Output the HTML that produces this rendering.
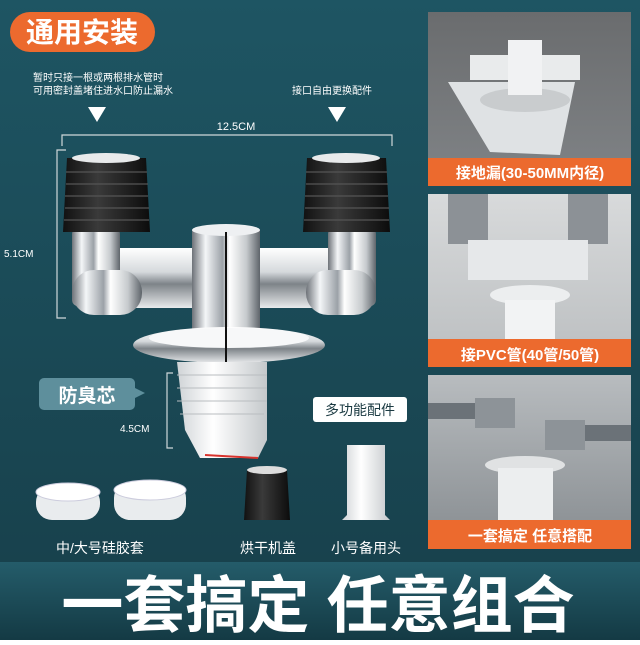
<!DOCTYPE html>
<html><head><meta charset="utf-8"><style>
html,body{margin:0;padding:0}
body{width:640px;height:640px;overflow:hidden;font-family:"Liberation Sans","Noto Sans CJK SC",sans-serif;}
</style></head><body>
<svg width="640" height="640" viewBox="0 0 640 640" xmlns="http://www.w3.org/2000/svg" font-family="'Liberation Sans','Noto Sans CJK SC',sans-serif">
<defs>
<linearGradient id="bg" x1="0" y1="0" x2="0" y2="1"><stop offset="0" stop-color="#1e5563"/><stop offset="1" stop-color="#173f4a"/></linearGradient>
<linearGradient id="band" x1="0" y1="0" x2="0" y2="1"><stop offset="0" stop-color="#245c6a"/><stop offset="1" stop-color="#143a44"/></linearGradient>
<linearGradient id="chr" x1="0" y1="0" x2="1" y2="0"><stop offset="0" stop-color="#6d7278"/><stop offset="0.2" stop-color="#f4f6f8"/><stop offset="0.45" stop-color="#9ba1a7"/><stop offset="0.55" stop-color="#ffffff"/><stop offset="0.8" stop-color="#c6cacd"/><stop offset="1" stop-color="#5e646a"/></linearGradient>
<linearGradient id="chrv" x1="0" y1="0" x2="0" y2="1"><stop offset="0" stop-color="#ffffff"/><stop offset="0.4" stop-color="#d5d9dc"/><stop offset="0.6" stop-color="#7d8388"/><stop offset="1" stop-color="#e8eaec"/></linearGradient>
<linearGradient id="blk" x1="0" y1="0" x2="1" y2="0"><stop offset="0" stop-color="#111"/><stop offset="0.4" stop-color="#3a3a3a"/><stop offset="1" stop-color="#0c0c0c"/></linearGradient>
<linearGradient id="wht" x1="0" y1="0" x2="1" y2="0"><stop offset="0" stop-color="#cfd3d6"/><stop offset="0.4" stop-color="#ffffff"/><stop offset="1" stop-color="#c4c8cb"/></linearGradient>
<linearGradient id="p1" x1="0" y1="0" x2="0" y2="1"><stop offset="0" stop-color="#6a6c6e"/><stop offset="1" stop-color="#7d8083"/></linearGradient>
<linearGradient id="p2" x1="0" y1="0" x2="0" y2="1"><stop offset="0" stop-color="#d8dadb"/><stop offset="1" stop-color="#bfc2c4"/></linearGradient>
<linearGradient id="p3" x1="0" y1="0" x2="0" y2="1"><stop offset="0" stop-color="#b8bcbf"/><stop offset="1" stop-color="#8e9397"/></linearGradient>
</defs>
<rect width="640" height="640" fill="url(#bg)"/>

<!-- title pill -->
<rect x="10" y="12" width="145" height="40" rx="20" fill="#ec6a2e"/>
<text x="82" y="42" font-size="28" font-weight="bold" fill="#fff" text-anchor="middle">通用安装</text>

<text x="33" y="81" font-size="10" fill="#fff">暂时只接一根或两根排水管时</text>
<text x="33" y="94" font-size="10" fill="#fff">可用密封盖堵住进水口防止漏水</text>
<text x="292" y="94" font-size="10" fill="#fff">接口自由更换配件</text>
<polygon points="88,107 106,107 97,122" fill="#fff"/>
<polygon points="328,107 346,107 337,122" fill="#fff"/>
<text x="236" y="130" font-size="11" fill="#fff" text-anchor="middle">12.5CM</text>
<path d="M62,146 V135 H392 V146" stroke="#cfd8da" stroke-width="1.2" fill="none"/>
<path d="M66,150 H57 V318 H66" stroke="#cfd8da" stroke-width="1.2" fill="none"/>
<text x="4" y="257" font-size="10" fill="#fff">5.1CM</text>

<!-- product -->
<rect x="100" y="248" width="250" height="60" fill="url(#chrv)"/>
<rect x="72" y="228" width="48" height="78" rx="6" fill="url(#chr)"/>
<rect x="72" y="270" width="70" height="45" rx="22" fill="url(#chr)"/>
<rect x="328" y="228" width="48" height="78" rx="6" fill="url(#chr)"/>
<rect x="306" y="270" width="70" height="45" rx="22" fill="url(#chr)"/>
<rect x="192" y="230" width="68" height="110" fill="url(#chr)"/>
<ellipse cx="226" cy="230" rx="34" ry="6" fill="#eef0f2"/>
<ellipse cx="229" cy="345" rx="96" ry="18" fill="url(#chrv)"/>
<ellipse cx="229" cy="338" rx="80" ry="10" fill="#f7f8f9"/>
<line x1="226" y1="232" x2="226" y2="362" stroke="#111" stroke-width="2"/>
<g fill="url(#blk)">
<path d="M67,158 H146 L150,232 H63 Z"/>
<path d="M307,158 H386 L390,232 H303 Z"/>
</g>
<g stroke="#555" stroke-width="1.2">
<line x1="66" y1="172" x2="147" y2="172"/><line x1="66" y1="184" x2="148" y2="184"/><line x1="65" y1="196" x2="148" y2="196"/><line x1="65" y1="208" x2="149" y2="208"/><line x1="64" y1="220" x2="149" y2="220"/>
<line x1="306" y1="172" x2="387" y2="172"/><line x1="306" y1="184" x2="388" y2="184"/><line x1="305" y1="196" x2="388" y2="196"/><line x1="305" y1="208" x2="389" y2="208"/><line x1="304" y1="220" x2="389" y2="220"/>
</g>
<ellipse cx="106" cy="158" rx="34" ry="5" fill="#e8eaeb"/>
<ellipse cx="346" cy="158" rx="34" ry="5" fill="#e8eaeb"/>

<!-- anti-odor core -->
<path d="M177,362 H267 V440 L258,458 H200 L185,430 Z" fill="url(#wht)"/>
<g stroke="#b9bdc0" stroke-width="1"><line x1="177" y1="375" x2="267" y2="375"/><line x1="177" y1="388" x2="267" y2="388"/><line x1="177" y1="401" x2="267" y2="401"/><line x1="180" y1="414" x2="264" y2="414"/></g>
<path d="M205,455 L258,458" stroke="#d8332d" stroke-width="2"/>
<path d="M173,373 H167 V448 H173" stroke="#cfd8da" stroke-width="1.2" fill="none"/>
<text x="120" y="432" font-size="10" fill="#fff">4.5CM</text>
<rect x="39" y="378" width="96" height="32" rx="5" fill="#5e8f9c"/>
<polygon points="135,388 145,393 135,398" fill="#5e8f9c"/>
<text x="87" y="402" font-size="19" font-weight="bold" fill="#fff" text-anchor="middle">防臭芯</text>
<rect x="313" y="397" width="94" height="25" rx="3" fill="#fff"/>
<text x="360" y="415" font-size="14" fill="#1b3a42" text-anchor="middle">多功能配件</text>

<!-- accessories -->
<rect x="36" y="486" width="64" height="34" rx="16" fill="#e9ecee"/>
<ellipse cx="68" cy="492" rx="32" ry="9" fill="#fff" stroke="#ccd" stroke-width="1"/>
<rect x="114" y="482" width="72" height="38" rx="16" fill="#e9ecee"/>
<ellipse cx="150" cy="490" rx="36" ry="10" fill="#fff" stroke="#ccd" stroke-width="1"/>
<path d="M247,470 H287 L290,520 H244 Z" fill="url(#blk)"/>
<ellipse cx="267" cy="470" rx="20" ry="4" fill="#ddd"/>
<path d="M347,445 H385 V515 L390,520 H342 L347,515 Z" fill="url(#wht)"/>
<text x="100" y="553" font-size="14" fill="#fff" text-anchor="middle">中/大号硅胶套</text>
<text x="268" y="553" font-size="14" fill="#fff" text-anchor="middle">烘干机盖</text>
<text x="366" y="553" font-size="14" fill="#fff" text-anchor="middle">小号备用头</text>

<!-- right panels -->
<rect x="428" y="12" width="203" height="148" fill="url(#p1)"/>
<polygon points="448,82 575,82 560,155 490,152" fill="#dfe2e4"/>
<ellipse cx="525" cy="100" rx="45" ry="12" fill="#c9ccce"/>
<rect x="470" y="55" width="110" height="25" fill="#e9ebec"/>
<rect x="508" y="40" width="34" height="55" fill="#f1f2f3"/>
<rect x="428" y="158" width="203" height="28" fill="#ec6a2e"/>
<text x="530" y="178" font-size="15" font-weight="bold" fill="#fff" text-anchor="middle">接地漏(30-50MM内径)</text>

<rect x="428" y="194" width="203" height="146" fill="url(#p2)"/>
<rect x="448" y="194" width="40" height="50" fill="#8c9196"/>
<rect x="568" y="194" width="40" height="50" fill="#8c9196"/>
<rect x="468" y="240" width="120" height="40" fill="#e6e8ea"/>
<ellipse cx="530" cy="295" rx="40" ry="10" fill="#eceeef"/>
<rect x="505" y="300" width="50" height="40" fill="#f2f3f4"/>
<rect x="428" y="339" width="203" height="28" fill="#ec6a2e"/>
<text x="530" y="360" font-size="15" font-weight="bold" fill="#fff" text-anchor="middle">接PVC管(40管/50管)</text>

<rect x="428" y="375" width="203" height="147" fill="url(#p3)"/>
<rect x="428" y="403" width="50" height="16" fill="#6b7278"/>
<rect x="475" y="398" width="40" height="30" fill="#8d9398"/>
<rect x="545" y="420" width="40" height="30" fill="#8d9398"/>
<rect x="585" y="425" width="46" height="16" fill="#6b7278"/>
<ellipse cx="525" cy="465" rx="40" ry="9" fill="#e0e2e3"/>
<rect x="498" y="468" width="55" height="54" fill="#eceeef"/>
<rect x="428" y="520" width="203" height="29" fill="#ec6a2e"/>
<text x="530" y="541" font-size="15" font-weight="bold" fill="#fff" text-anchor="middle">一套搞定 任意搭配</text>

<!-- bottom band -->
<rect x="0" y="562" width="640" height="78" fill="url(#band)"/>
<text x="318" y="627" font-size="62" font-weight="bold" fill="#fff" text-anchor="middle">一套搞定 任意组合</text>
</svg>
</body></html>
